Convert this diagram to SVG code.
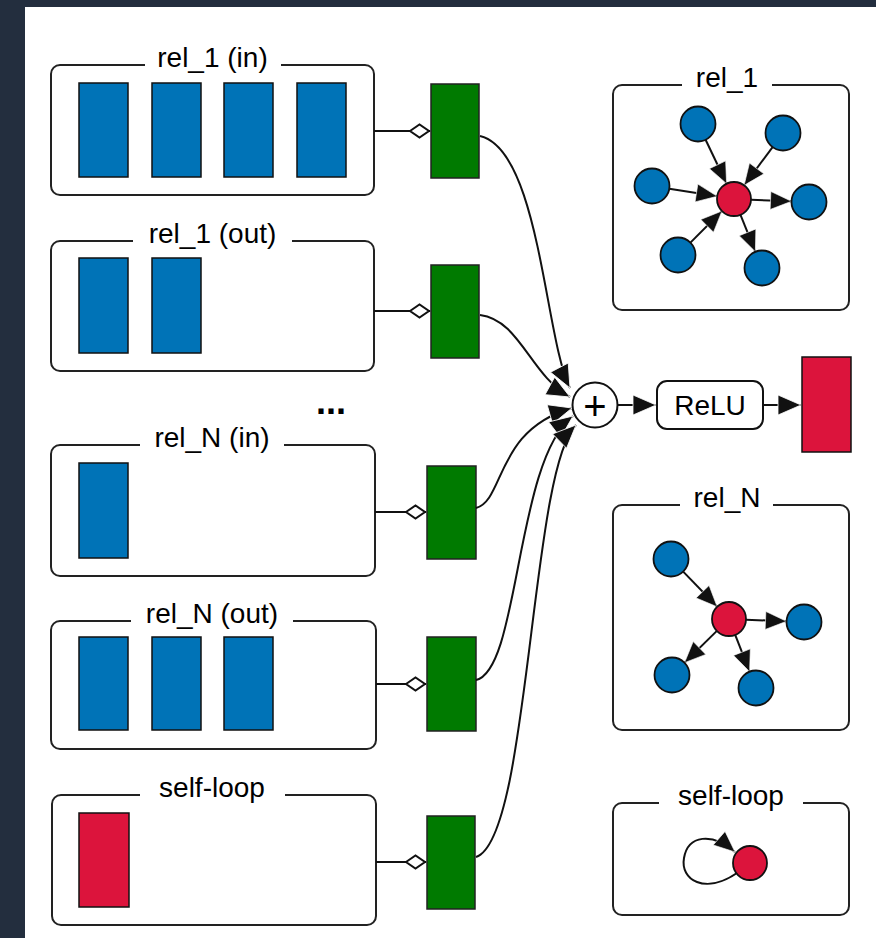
<svg xmlns="http://www.w3.org/2000/svg" width="876" height="938" viewBox="0 0 876 938">
  <defs>
    <style>
      .panel { fill: #ffffff; stroke: #222222; stroke-width: 2; }
      .gap { fill: #ffffff; stroke: none; }
      .title { font-family: "Liberation Sans", Arial, sans-serif; font-size: 28px; fill: #000000; text-anchor: middle; }
      .vec-blue { fill: #0073b7; stroke: #111111; stroke-width: 1.5; }
      .vec-red { fill: #dc143c; stroke: #111111; stroke-width: 1.5; }
      .vec-green { fill: #007a00; stroke: #222222; stroke-width: 1.5; }
      .edge { fill: none; stroke: #111111; stroke-width: 2; }
      .node-blue { fill: #0073b7; stroke: #111111; stroke-width: 1.8; }
      .node-red { fill: #dc143c; stroke: #111111; stroke-width: 1.8; }
    </style>
    <marker id="arrow" markerUnits="userSpaceOnUse" markerWidth="26" markerHeight="24" viewBox="0 0 26 24" refX="24" refY="12" orient="auto">
      <path d="M1,2 L24,12 L1,22 z" fill="#111111" stroke="#ffffff" stroke-width="0.8"/>
    </marker>
    <marker id="arrow-sm" markerUnits="userSpaceOnUse" markerWidth="24" markerHeight="22" viewBox="0 0 24 22" refX="22" refY="11" orient="auto">
      <path d="M1,2 L22,11 L1,20 z" fill="#111111" stroke="#ffffff" stroke-width="0.6"/>
    </marker>
    <marker id="diamond" markerUnits="userSpaceOnUse" markerWidth="24" markerHeight="18" viewBox="0 0 24 18" refX="23" refY="9" orient="auto">
      <path d="M3,9 L12.5,2.5 L22,9 L12.5,15.5 z" fill="#ffffff" stroke="#111111" stroke-width="2"/>
    </marker>
  </defs>

  <!-- page frame -->
  <rect x="0" y="0" width="876" height="938" fill="#232e3e"/>
  <rect x="25" y="7" width="851" height="931" fill="#ffffff"/>

  <!-- relation input panels -->
  <g id="panel-rel1-in">
    <rect class="panel" x="51" y="65" width="323" height="130" rx="9"/>
    <rect class="gap" x="145" y="55" width="136" height="20"/>
    <text class="title" x="212.5" y="67">rel_1 (in)</text>
    <rect class="vec-blue" x="79" y="83" width="49" height="94"/>
    <rect class="vec-blue" x="152" y="83" width="49" height="94"/>
    <rect class="vec-blue" x="224" y="83" width="49" height="94"/>
    <rect class="vec-blue" x="297" y="83" width="49" height="94"/>
  </g>

  <g id="panel-rel1-out">
    <rect class="panel" x="51" y="241" width="323" height="130" rx="9"/>
    <rect class="gap" x="133" y="231" width="159" height="20"/>
    <text class="title" x="212.5" y="243">rel_1 (out)</text>
    <rect class="vec-blue" x="79" y="258" width="49" height="95"/>
    <rect class="vec-blue" x="152" y="258" width="49" height="95"/>
  </g>

  <g id="ellipsis">
    <text x="331" y="414" font-family="Liberation Sans, Arial, sans-serif" font-size="36" font-weight="bold" fill="#000000" text-anchor="middle">...</text>
  </g>

  <g id="panel-relN-in">
    <rect class="panel" x="51" y="445" width="324" height="131" rx="9"/>
    <rect class="gap" x="140" y="435" width="144" height="20"/>
    <text class="title" x="212" y="447">rel_N (in)</text>
    <rect class="vec-blue" x="79" y="463" width="49" height="95"/>
  </g>

  <g id="panel-relN-out">
    <rect class="panel" x="51" y="621" width="325" height="128" rx="9"/>
    <rect class="gap" x="131" y="611" width="162" height="20"/>
    <text class="title" x="212" y="623">rel_N (out)</text>
    <rect class="vec-blue" x="79" y="637" width="49" height="93"/>
    <rect class="vec-blue" x="152" y="637" width="49" height="93"/>
    <rect class="vec-blue" x="224" y="637" width="49" height="93"/>
  </g>

  <g id="panel-self-in">
    <rect class="panel" x="52" y="795" width="324" height="130" rx="9"/>
    <rect class="gap" x="140" y="785" width="145" height="20"/>
    <text class="title" x="212" y="797">self-loop</text>
    <rect class="vec-red" x="79" y="813" width="50" height="94"/>
  </g>

  <!-- transformed messages -->
  <g id="msg-rel1-in"><rect class="vec-green" x="431" y="84" width="48" height="94"/></g>
  <g id="msg-rel1-out"><rect class="vec-green" x="431" y="265" width="48" height="93"/></g>
  <g id="msg-relN-in"><rect class="vec-green" x="427" y="466" width="49" height="93"/></g>
  <g id="msg-relN-out"><rect class="vec-green" x="427" y="637" width="49" height="94"/></g>
  <g id="msg-self"><rect class="vec-green" x="427" y="816" width="48" height="93"/></g>

  <!-- aggregation and activation -->
  <g id="sum">
    <circle cx="595" cy="405" r="22.5" fill="#ffffff" stroke="#111111" stroke-width="2"/>
    <text x="595" y="420" font-family="Liberation Sans, Arial, sans-serif" font-size="40" fill="#000000" text-anchor="middle">+</text>
  </g>
  <g id="relu">
    <rect x="657" y="381" width="106" height="48" rx="10" fill="#ffffff" stroke="#111111" stroke-width="2"/>
    <text class="title" x="710" y="415">ReLU</text>
  </g>
  <g id="output">
    <rect class="vec-red" x="802" y="357" width="49" height="95"/>
  </g>

  <!-- connectors -->
  <g id="connectors">
    <line class="edge" x1="374" y1="131" x2="430" y2="131" marker-end="url(#diamond)"/>
    <line class="edge" x1="374" y1="311" x2="430" y2="311" marker-end="url(#diamond)"/>
    <line class="edge" x1="375" y1="512" x2="426" y2="512" marker-end="url(#diamond)"/>
    <line class="edge" x1="376" y1="684" x2="426" y2="684" marker-end="url(#diamond)"/>
    <line class="edge" x1="376" y1="862" x2="426" y2="862" marker-end="url(#diamond)"/>

    <path class="edge" d="M480,136 C540,150 545,340 570,388" marker-end="url(#arrow)"/>
    <path class="edge" d="M480,315 C520,320 530,375 570,397" marker-end="url(#arrow)"/>
    <path class="edge" d="M476,508 C505,500 495,430 572,408" marker-end="url(#arrow)"/>
    <path class="edge" d="M476,680 C520,670 515,460 573,416" marker-end="url(#arrow)"/>
    <path class="edge" d="M476,857 C530,840 530,470 576,425" marker-end="url(#arrow)"/>

    <line class="edge" x1="618" y1="405" x2="656" y2="405" marker-end="url(#arrow)"/>
    <line class="edge" x1="763" y1="405" x2="801" y2="405" marker-end="url(#arrow)"/>
  </g>

  <!-- relation neighbourhood sketches -->
  <g id="graph-rel1">
    <rect class="panel" x="613" y="85" width="236" height="225" rx="9"/>
    <rect class="gap" x="682" y="75" width="90" height="20"/>
    <text class="title" x="727" y="87">rel_1</text>
    <g class="star-edges">
      <line class="edge" x1="705.6" y1="139.8" x2="726.6" y2="183.7" marker-end="url(#arrow-sm)"/>
      <line class="edge" x1="772.6" y1="147.1" x2="744.1" y2="185.3" marker-end="url(#arrow-sm)"/>
      <line class="edge" x1="669.3" y1="188.7" x2="717.2" y2="196.3" marker-end="url(#arrow-sm)"/>
      <line class="edge" x1="690.4" y1="242.6" x2="722" y2="211" marker-end="url(#arrow-sm)"/>
      <line class="edge" x1="751" y1="199.7" x2="791.5" y2="201.3" marker-end="url(#arrow-sm)"/>
      <line class="edge" x1="740.4" y1="214.7" x2="755.4" y2="251.8" marker-end="url(#arrow-sm)"/>
    </g>
    <circle class="node-blue" cx="698" cy="124" r="17.5"/>
    <circle class="node-blue" cx="783" cy="133" r="17.5"/>
    <circle class="node-blue" cx="652" cy="186" r="17.5"/>
    <circle class="node-blue" cx="809" cy="202" r="17.5"/>
    <circle class="node-blue" cx="678" cy="255" r="17.5"/>
    <circle class="node-blue" cx="762" cy="268" r="17.5"/>
    <circle class="node-red" cx="734" cy="199" r="17"/>
  </g>

  <g id="graph-relN">
    <rect class="panel" x="613" y="505" width="236" height="225" rx="9"/>
    <rect class="gap" x="680" y="495" width="93" height="20"/>
    <text class="title" x="727" y="507">rel_N</text>
    <g class="star-edges">
      <line class="edge" x1="683.2" y1="571.6" x2="717.2" y2="606.8" marker-end="url(#arrow-sm)"/>
      <line class="edge" x1="746" y1="619.7" x2="786.5" y2="621.3" marker-end="url(#arrow-sm)"/>
      <line class="edge" x1="716.9" y1="630.9" x2="684.5" y2="662.7" marker-end="url(#arrow-sm)"/>
      <line class="edge" x1="735.2" y1="634.8" x2="749.6" y2="671.7" marker-end="url(#arrow-sm)"/>
    </g>
    <circle class="node-blue" cx="671" cy="559" r="17.5"/>
    <circle class="node-blue" cx="804" cy="622" r="17.5"/>
    <circle class="node-blue" cx="672" cy="675" r="17.5"/>
    <circle class="node-blue" cx="756" cy="688" r="17.5"/>
    <circle class="node-red" cx="729" cy="619" r="17"/>
  </g>

  <g id="graph-self">
    <rect class="panel" x="613" y="803" width="236" height="112" rx="9"/>
    <rect class="gap" x="659" y="793" width="144" height="20"/>
    <text class="title" x="731" y="805">self-loop</text>
    <path class="edge" d="M737,873 C705,895 680,880 684,858 C688,835 712,832 735,852" marker-end="url(#arrow-sm)"/>
    <circle class="node-red" cx="750" cy="863" r="17"/>
  </g>
</svg>
